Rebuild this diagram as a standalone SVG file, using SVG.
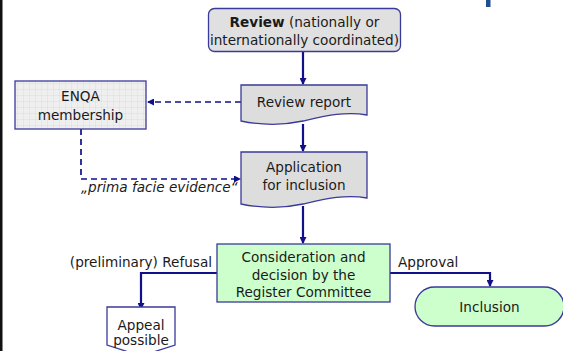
<svg xmlns="http://www.w3.org/2000/svg" width="563" height="351" viewBox="0 0 563 351">
<defs>
<pattern id="grid" width="6" height="6" patternUnits="userSpaceOnUse">
<rect width="6" height="6" fill="#efefef"/>
<path d="M6,0 V6 M0,6 H6" stroke="#d6d6d6" stroke-width="0.7" fill="none"/>
</pattern>
<marker id="ah" markerWidth="7" markerHeight="7" refX="6" refY="3.5" orient="auto" markerUnits="userSpaceOnUse">
<path d="M0,0 L7,3.5 L0,7 Z" fill="#10108a"/>
</marker>
</defs>
<style>
text{font-family:"DejaVu Sans","Liberation Sans",sans-serif;font-size:13.6px;fill:#1a1a1a;}
.c{text-anchor:middle;}
.box{stroke:#3a3a9a;stroke-width:1.3;}
.grey{fill:#dddddd;}
.green{fill:#ccffcc;}
.solid{fill:none;stroke:#10108a;stroke-width:2.2;}
.dash{fill:none;stroke:#10108a;stroke-width:1.7;stroke-dasharray:6,4;}
</style>
<rect x="0" y="0" width="563" height="351" fill="#ffffff"/>
<rect x="0" y="0" width="2.5" height="351" fill="#111111"/>
<rect x="486" y="0" width="4.5" height="7" fill="#1f4f8f"/>

<g id="connectors">
<path class="solid" d="M303,52 V84" marker-end="url(#ah)"/>
<path class="solid" d="M303,124 V151" marker-end="url(#ah)"/>
<path class="solid" d="M303,206 V243" marker-end="url(#ah)"/>
<path class="dash" d="M241,102 H148" marker-end="url(#ah)"/>
<path class="dash" d="M81,129 V179 H240" marker-end="url(#ah)"/>
<path class="solid" d="M217,273 H141 V309" marker-end="url(#ah)"/>
<path class="solid" d="M390,273 H490 V286" marker-end="url(#ah)"/>
<text x="212" y="267" text-anchor="end">(preliminary) Refusal</text>
<text x="398" y="267">Approval</text>
<text x="81" y="192" style="font-style:italic">„prima facie evidence“</text>
</g>

<g id="review">
<rect class="box" x="208.5" y="8.5" width="192" height="43" rx="6" fill="#e0e0e0"/>
<text class="c" x="304.5" y="27"><tspan font-weight="bold">Review</tspan> (nationally or</text>
<text class="c" x="304.5" y="45">internationally coordinated)</text>
</g>

<g id="review-report">
<path class="box grey" d="M241,85 H367 V115 C345,111 325,116 303,121 C280,126 260,125 241,121 Z"/>
<text class="c" x="304" y="107">Review report</text>
</g>

<g id="enqa">
<rect class="box" x="15" y="81" width="131" height="48" fill="url(#grid)"/>
<text class="c" x="80.5" y="100.5">ENQA</text>
<text class="c" x="80.5" y="119.5">membership</text>
</g>

<g id="application">
<path class="box grey" d="M241,152 H367 V198 C345,194 325,199 303,204 C280,209 260,208 241,204 Z"/>
<text class="c" x="304" y="172">Application</text>
<text class="c" x="304" y="190">for inclusion</text>
</g>

<g id="decision">
<rect class="box green" x="217" y="244" width="173" height="58"/>
<text class="c" x="303.5" y="262">Consideration and</text>
<text class="c" x="303.5" y="279.5">decision by the</text>
<text class="c" x="303.5" y="297">Register Committee</text>
</g>

<g id="appeal">
<path class="box" fill="#ffffff" d="M107,307 H175 V345 L141,356 L107,345 Z"/>
<text class="c" x="141" y="330">Appeal</text>
<text class="c" x="141" y="345">possible</text>
</g>

<g id="inclusion">
<rect class="box green" x="415" y="287" width="149" height="39" rx="19.5"/>
<text class="c" x="489.5" y="312">Inclusion</text>
</g>
</svg>
